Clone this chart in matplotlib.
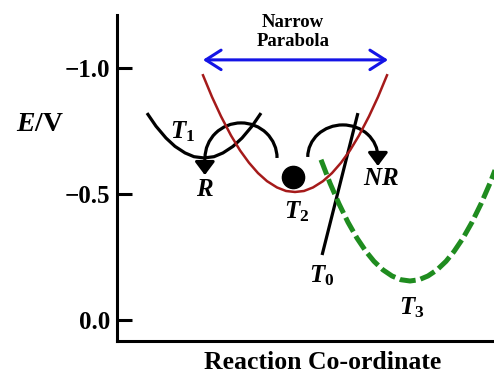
import numpy as np
import matplotlib
matplotlib.use("Agg")
import matplotlib.pyplot as plt
from matplotlib.patches import Arc

# ── fonts ─────────────────────────────────────────────────────────────────────
plt.rcParams["font.family"] = ["Liberation Serif", "DejaVu Serif"]
plt.rcParams["font.weight"] = "bold"
plt.rcParams["mathtext.fontset"] = "custom"
plt.rcParams["mathtext.rm"] = "Liberation Serif:bold"
plt.rcParams["mathtext.it"] = "Liberation Serif:italic:bold"
plt.rcParams["mathtext.bf"] = "Liberation Serif:bold"

# ── data (reaction coordinate, E / V) ─────────────────────────────────────────
narrow_x = [2.281, 2.520, 2.759, 3.024, 3.263, 3.501, 3.740, 3.979, 4.244, 4.483, 4.721,
            4.960, 5.199, 5.464, 5.703, 5.942, 6.180, 6.419, 6.684, 6.923, 7.162]
narrow_E = [-0.971, -0.885, -0.808, -0.732, -0.673, -0.624, -0.583, -0.551, -0.526, -0.512, -0.508,
            -0.512, -0.526, -0.551, -0.583, -0.624, -0.673, -0.732, -0.808, -0.885, -0.971]

t3_x = [5.411, 5.650, 5.889, 6.127, 6.366, 6.605, 6.817, 7.056, 7.294, 7.533, 7.772,
        8.011, 8.249, 8.488, 8.727, 8.939, 9.178, 9.416, 9.655, 9.894, 10.133]
t3_E = [-0.636, -0.543, -0.461, -0.388, -0.325, -0.272, -0.233, -0.199, -0.175, -0.160, -0.155,
        -0.160, -0.175, -0.199, -0.233, -0.272, -0.325, -0.388, -0.461, -0.543, -0.636]

t1_x = [0.796, 1.034, 1.300, 1.538, 1.804, 2.042, 2.308, 2.573, 2.812, 3.077, 3.316, 3.581, 3.820]
t1_E = [-0.821, -0.769, -0.722, -0.689, -0.663, -0.648, -0.643,
        -0.648, -0.663, -0.689, -0.722, -0.769, -0.821]

t0_x = [5.44, 6.39]
t0_E = [-0.258, -0.821]

ball_x, ball_E = 4.67, -0.567

# curved arrows: centre, width, height, arrow tip
loops = [
    dict(cx=3.29, cE=-0.643, w=1.91, h=0.278, tip=(2.33, -0.575)),
    dict(cx=5.99, cE=-0.647, w=1.86, h=0.254, tip=(6.92, -0.611)),
]

span_x = [2.28, 7.19]
span_E = -1.032

labels = [
    (r"$T_1$", 1.73, -0.746),
    (r"$R$", 2.33, -0.516),
    (r"$T_2$", 4.77, -0.429),
    (r"$NR$", 7.00, -0.563),
    (r"$T_0$", 5.44, -0.175),
    (r"$T_3$", 7.82, -0.048),
]

yticks = [-1.0, -0.5, 0.0]

# ── plot ──────────────────────────────────────────────────────────────────────
fig = plt.figure(figsize=(4.94, 3.74), dpi=100)
ax = fig.add_axes([117 / 494, 33 / 374, 377 / 494, 326 / 374])

ax.plot(t1_x, t1_E, color="black", lw=2.3, solid_capstyle="butt")
ax.plot(t0_x, t0_E, color="black", lw=2.3, solid_capstyle="butt")
ax.plot(t3_x, t3_E, color="#1f8c1f", lw=3.6, dashes=(3.2, 1.0))
ax.plot(narrow_x, narrow_E, color="#a51a1a", lw=1.8)
ax.plot(ball_x, ball_E, "o", color="black", ms=16)

for lp in loops:
    ax.add_patch(Arc((lp["cx"], lp["cE"]), lp["w"], lp["h"], theta1=180, theta2=360,
                     color="black", lw=2.3))
    tx, tE = lp["tip"]
    ax.annotate("", xy=(tx, tE), xytext=(tx, lp["cE"] + 0.005),
                arrowprops=dict(arrowstyle="-|>,head_width=0.3,head_length=0.4",
                                color="black", lw=2.2, mutation_scale=20,
                                shrinkA=0, shrinkB=0))

ax.annotate("", xy=(span_x[1], span_E), xytext=(span_x[0], span_E),
            arrowprops=dict(arrowstyle="<->,head_width=0.35,head_length=0.55",
                            color="#1414e6", lw=2.2, mutation_scale=20,
                            shrinkA=0, shrinkB=0))
ax.text(4.67, -1.143, "Narrow\nParabola", ha="center", va="center",
        fontsize=13.5, fontweight="bold", linespacing=1.1)

for s, x, E in labels:
    ax.text(x, E, s, ha="center", va="center", fontsize=18)

ax.set_xlim(0, 10)
ax.set_ylim(0.083, -1.21)
ax.set_yticks(yticks)
ax.set_yticklabels([f"{v:.1f}".replace("-", "\u2212") for v in yticks])
ax.set_xticks([])
ax.tick_params(axis="y", direction="in", length=11, width=2.2, pad=5, labelsize=18)

for side in ["top", "right"]:
    ax.spines[side].set_visible(False)
for side in ["left", "bottom"]:
    ax.spines[side].set_linewidth(2.2)

ax.set_ylabel(r"$E/\mathrm{V}$", fontsize=20, rotation=0, ha="center", va="center")
ax.yaxis.set_label_coords(-0.204, 0.663)
ax.set_xlabel("Reaction Co-ordinate", fontsize=18.5, fontweight="bold", va="top")
ax.xaxis.set_label_coords(0.546, -0.03)

fig.savefig("out.png", dpi=100)
